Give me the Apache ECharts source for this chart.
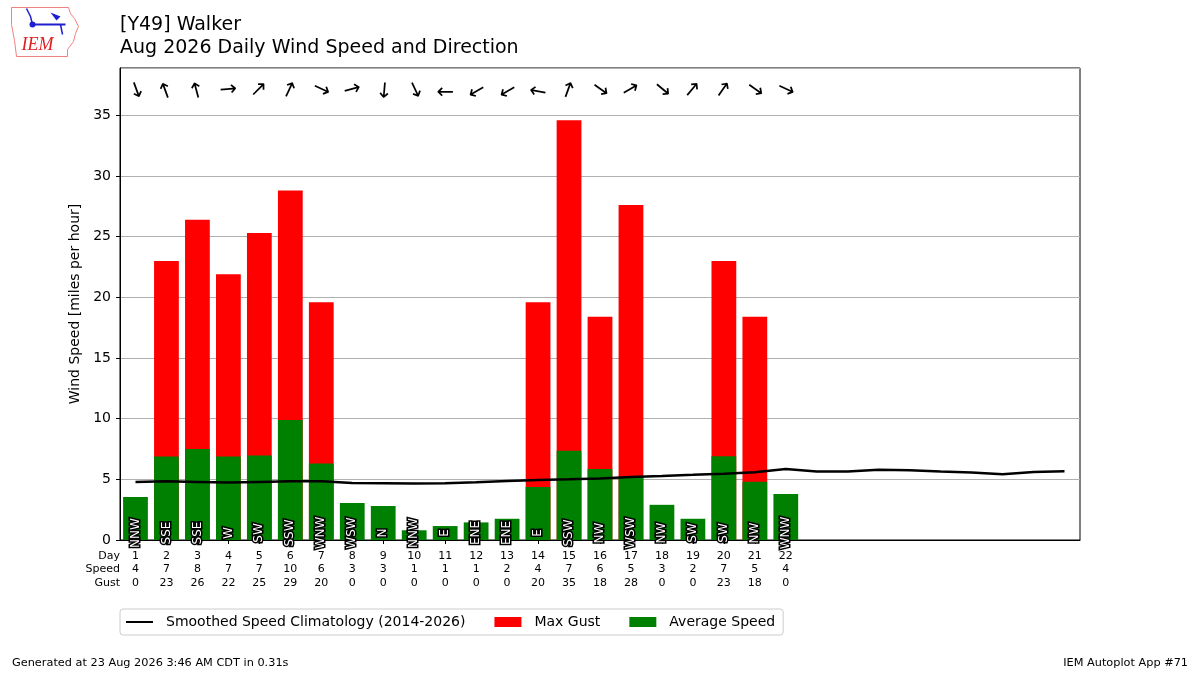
<!DOCTYPE html>
<html>
<head>
<meta charset="utf-8">
<script src="https://cdn.jsdelivr.net/npm/echarts@6/dist/echarts.min.js"></script>
<style>
html,body{margin:0;padding:0;background:#fff;}
#chart{width:1200px;height:675px;}
</style>
</head>
<body>
<div id="chart"></div>
<script>
// ---- data ----
const days = ['1','2','3','4','5','6','7','8','9','10','11','12','13','14','15','16','17','18','19','20','21','22','23','24','25','26','27','28','29','30','31'];
const avgSpeed = [3.55, 6.88, 7.5, 6.88, 6.96, 9.9, 6.3, 3.05, 2.8, 0.8, 1.15, 1.45, 1.75, 4.37, 7.35, 5.85, 5.2, 2.9, 1.75, 6.9, 4.8, 3.8];
const maxGust = [0, 23.0, 26.4, 21.9, 25.3, 28.8, 19.6, 0, 0, 0, 0, 0, 0, 19.6, 34.6, 18.4, 27.6, 0, 0, 23.0, 18.4, 0];
const climatology = [4.79, 4.84, 4.79, 4.73, 4.79, 4.84, 4.84, 4.70, 4.68, 4.65, 4.68, 4.76, 4.87, 4.95, 5.00, 5.06, 5.20, 5.28, 5.37, 5.47, 5.59, 5.86, 5.64, 5.64, 5.78, 5.75, 5.64, 5.56, 5.42, 5.61, 5.67];
const dirLabels = ['NNW','SSE','SSE','W','SW','SSW','WNW','WSW','N','NNW','E','ENE','ENE','E','SSW','NW','WSW','NW','SW','SW','NW','WNW'];
const dirDegrees = [340, 160, 165, 265, 225, 205, 295, 255, 5, 335, 90, 60, 60, 100, 200, 305, 240, 310, 220, 215, 305, 295];
const speedLabels = ['4','7','8','7','7','10','6','3','3','1','1','1','2','4','7','6','5','3','2','7','5','4'];
const gustLabels = ['0','23','26','22','25','29','20','0','0','0','0','0','0','20','35','18','28','0','0','23','18','0'];
const yTicks = [0, 5, 10, 15, 20, 25, 30, 35];
const yMax = 38.9;

const FONT = 'DejaVu Sans';
const nObs = avgSpeed.length;
const chart = echarts.init(document.getElementById('chart'));

const idxData = avgSpeed.map((v, i) => [i, 0]);

chart.setOption({
  animation: false,
  backgroundColor: '#fff',
  textStyle: { fontFamily: FONT },
  title: {
    text: '[Y49] Walker\nAug 2026 Daily Wind Speed and Direction',
    left: 115, top: 9,
    textStyle: { fontFamily: FONT, fontSize: 19, fontWeight: 'normal', color: '#000', lineHeight: 23 }
  },
  grid: { left: 120, right: 120, top: 68, bottom: 135, show: true, borderColor: '#000', borderWidth: 1, backgroundColor: 'transparent' },
  legend: {
    left: 120, top: 609,
    orient: 'horizontal',
    itemWidth: 27, itemHeight: 10, itemGap: 29,
    padding: [6, 8, 6, 5],
    borderColor: '#cccccc', borderWidth: 1, borderRadius: 3,
    textStyle: { fontFamily: FONT, fontSize: 14, color: '#000', padding: [0, 0, 0, 8] },
    data: [
      { name: 'Smoothed Speed Climatology (2014-2026)', itemStyle: { opacity: 0 } },
      { name: 'Max Gust', icon: 'rect' },
      { name: 'Average Speed', icon: 'rect' }
    ]
  },
  xAxis: {
    type: 'category',
    data: days,
    boundaryGap: true,
    axisLine: { show: true, lineStyle: { color: '#000', width: 1 } },
    axisTick: { show: true, alignWithLabel: true, length: 4, lineStyle: { color: '#000' }, interval: (i) => i < nObs },
    axisLabel: {
      interval: (i) => i < nObs,
      margin: 9,
      fontFamily: FONT, fontSize: 11, color: '#000', lineHeight: 13.5,
      formatter: (v, i) => i < nObs ? (days[i] + '\n' + speedLabels[i] + '\n' + gustLabels[i]) : ''
    },
    splitLine: { show: false }
  },
  yAxis: {
    type: 'value',
    min: 0, max: yMax, interval: 5,
    name: 'Wind Speed [miles per hour]',
    nameLocation: 'middle', nameGap: 34,
    nameTextStyle: { fontFamily: FONT, fontSize: 14, color: '#000' },
    axisLine: { show: true, lineStyle: { color: '#000' } },
    axisTick: { show: true, length: 4, lineStyle: { color: '#000' } },
    axisLabel: {
      margin: 9, fontFamily: FONT, fontSize: 14, color: '#000', showMaxLabel: false,
      formatter: (v) => yTicks.indexOf(v) >= 0 ? String(v) : ''
    },
    splitLine: { show: true, lineStyle: { color: '#b0b0b0', width: 1 } }
  },
  series: [
    {
      name: 'Max Gust', type: 'bar', data: maxGust,
      barWidth: '80%', barGap: '-100%',
      itemStyle: { color: '#ff0000' }, z: 2
    },
    {
      name: 'Average Speed', type: 'bar', data: avgSpeed,
      barWidth: '80%', barGap: '-100%',
      itemStyle: { color: '#008000' }, z: 3
    },
    {
      name: 'Smoothed Speed Climatology (2014-2026)', type: 'line', data: climatology,
      symbol: 'none', smooth: false,
      lineStyle: { color: '#000', width: 2.5 }, itemStyle: { color: '#000' }, z: 5
    },
    {
      name: 'arrows', type: 'custom', data: idxData, z: 6, silent: true,
      renderItem: function (params, api) {
        const i = api.value(0);
        const x = api.coord([i, 0])[0];
        const yTop = api.coord([i, yMax])[1];
        const toDir = (dirDegrees[i] + 180) % 360;
        const rot = (90 - toDir) * Math.PI / 180;
        return {
          type: 'text', x: x, y: yTop + 22, rotation: rot,
          style: { text: '→', fontFamily: FONT, fontSize: 21, fill: '#000', align: 'center', verticalAlign: 'middle' }
        };
      }
    },
    {
      name: 'dirs', type: 'custom', data: idxData, z: 7, silent: true,
      renderItem: function (params, api) {
        const i = api.value(0);
        const p = api.coord([i, 0]);
        return {
          type: 'text', x: p[0], y: p[1] - 7, rotation: Math.PI / 2,
          style: { text: dirLabels[i], fontFamily: FONT, fontSize: 12, fill: '#fff', stroke: '#000', lineWidth: 3, align: 'center', verticalAlign: 'middle' }
        };
      }
    }
  ],
  graphic: [
    { type: 'text', x: 120, y: 549, style: { text: 'Day\nSpeed\nGust', fontFamily: FONT, fontSize: 11, fill: '#000', align: 'right', verticalAlign: 'top', lineHeight: 13.5 } },
    { type: 'text', left: 12, top: 658, style: { text: 'Generated at 23 Aug 2026 3:46 AM CDT in 0.31s', fontFamily: FONT, fontSize: 11.3, fill: '#000' } },
    { type: 'text', right: 12, top: 658, style: { text: 'IEM Autoplot App #71', fontFamily: FONT, fontSize: 11.3, fill: '#000', align: 'right' } },
    {
      type: 'group', left: 9, top: 5,
      children: [
        { type: 'polygon', shape: { points: [[1,3],[58,3],[60,9],[64,14],[68,22],[65,29],[63,37],[57,45],[57,52],[6,52],[4,36],[1,20]] }, style: { fill: 'none', stroke: '#f08080', lineWidth: 1 } },
        { type: 'line', shape: { x1: 22, y1: 20, x2: 55, y2: 20 }, style: { stroke: '#1f1fcf', lineWidth: 2 } },
        { type: 'circle', shape: { cx: 22, cy: 20, r: 3 }, style: { fill: '#1f1fcf' } },
        { type: 'polyline', shape: { points: [[16,4],[20,12],[22,20]] }, style: { stroke: '#1f1fcf', lineWidth: 1.5, fill: 'none' } },
        { type: 'polygon', shape: { points: [[40,8],[50,12],[46,16]] }, style: { fill: '#1f1fcf' } },
        { type: 'line', shape: { x1: 50, y1: 20, x2: 52, y2: 30 }, style: { stroke: '#1f1fcf', lineWidth: 1.5 } },
        { type: 'text', x: 11, y: 32, style: { text: 'IEM', fontFamily: 'Liberation Serif', fontStyle: 'italic', fontSize: 18, fill: '#e02020' } }
      ]
    }
  ]
});
</script>
</body>
</html>
